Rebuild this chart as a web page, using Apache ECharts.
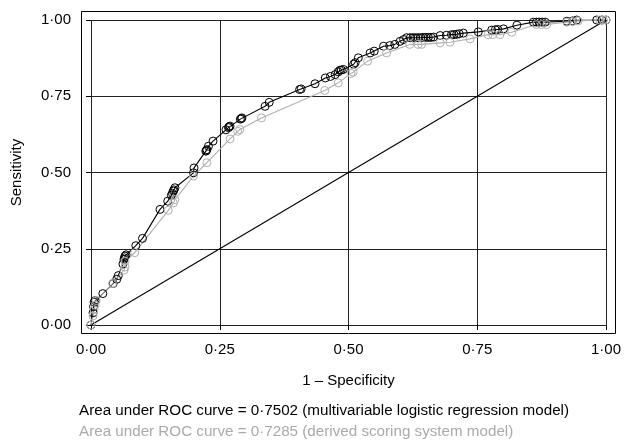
<!DOCTYPE html>
<html>
<head>
<meta charset="utf-8">
<script src="https://cdn.jsdelivr.net/npm/echarts@6/dist/echarts.min.js"></script>
<style>
  html, body { margin: 0; padding: 0; background: #fff; }
  #chart { width: 625px; height: 440px; }
</style>
</head>
<body>
<div id="chart"></div>
<script>
// multivariable logistic regression model (black)
const fprLogit = [0, 0.004, 0.005, 0.006, 0.008, 0.023, 0.043, 0.05, 0.053, 0.062, 0.064, 0.065, 0.066, 0.068,
  0.087, 0.1, 0.134, 0.149, 0.156, 0.158, 0.16, 0.161, 0.163, 0.199, 0.2, 0.223, 0.224, 0.225, 0.228, 0.237,
  0.262, 0.267, 0.268, 0.27, 0.29, 0.292, 0.293, 0.338, 0.346, 0.405, 0.408, 0.435, 0.455, 0.465, 0.474,
  0.48, 0.483, 0.486, 0.49, 0.51, 0.513, 0.519, 0.542, 0.55, 0.568, 0.58, 0.59, 0.6, 0.607, 0.613, 0.62,
  0.625, 0.63, 0.635, 0.64, 0.645, 0.65, 0.655, 0.66, 0.665, 0.678, 0.69, 0.7, 0.705, 0.71, 0.715, 0.723,
  0.752, 0.778, 0.785, 0.79, 0.801, 0.827, 0.859, 0.865, 0.87, 0.876, 0.882, 0.924, 0.935, 0.943, 0.982,
  0.992, 1]
const tprLogit = [0, 0.04, 0.06, 0.075, 0.08, 0.103, 0.136, 0.15, 0.162, 0.2, 0.215, 0.22, 0.226, 0.23,
  0.26, 0.284, 0.379, 0.406, 0.425, 0.432, 0.439, 0.443, 0.45, 0.499, 0.515, 0.57, 0.572, 0.575, 0.586, 0.603,
  0.64, 0.647, 0.65, 0.652, 0.675, 0.677, 0.679, 0.717, 0.73, 0.772, 0.774, 0.791, 0.81, 0.815, 0.821,
  0.83, 0.835, 0.836, 0.838, 0.855, 0.86, 0.876, 0.892, 0.898, 0.914, 0.916, 0.92, 0.93, 0.936, 0.942, 0.942,
  0.942, 0.942, 0.942, 0.942, 0.943, 0.943, 0.943, 0.943, 0.944, 0.949, 0.95, 0.952, 0.952, 0.953, 0.955, 0.957,
  0.961, 0.967, 0.968, 0.969, 0.971, 0.983, 0.993, 0.993, 0.993, 0.993, 0.993, 0.996, 0.997, 1, 1,
  1, 1]

// derived scoring system model (grey)
const fprScore = [0, 0.004, 0.006, 0.008, 0.01, 0.042, 0.064, 0.066, 0.066, 0.085, 0.15, 0.16, 0.163, 0.199,
  0.225, 0.27, 0.285, 0.289, 0.331, 0.454, 0.48, 0.505, 0.509, 0.537, 0.574, 0.619, 0.635, 0.642, 0.678,
  0.697, 0.736, 0.771, 0.78, 0.794, 0.817, 0.865, 0.875, 0.885, 0.924, 0.935, 0.946, 0.988, 0.995, 1]
const tprScore = [0, 0.03, 0.05, 0.065, 0.08, 0.136, 0.18, 0.19, 0.209, 0.237, 0.376, 0.4, 0.411, 0.488,
  0.532, 0.61, 0.635, 0.641, 0.679, 0.769, 0.794, 0.825, 0.829, 0.865, 0.892, 0.92, 0.92, 0.92, 0.925,
  0.927, 0.938, 0.952, 0.952, 0.952, 0.96, 0.985, 0.985, 0.985, 0.993, 0.995, 0.997, 1, 1, 1]

const chanceLine = [[0, 0], [1, 1]]
const tickValues = [0, 0.25, 0.5, 0.75, 1]
const notes = [
  'Area under ROC curve = 0·7502 (multivariable logistic regression model)',
  'Area under ROC curve = 0·7285 (derived scoring system model)'
]

const FONT = '"Liberation Sans", Arial, Helvetica, sans-serif'
const fmt = v => v.toFixed(2).replace('.', '·')
const pairs = (xs, ys) => xs.map((x, i) => [x, ys[i]])

const chart = echarts.init(document.getElementById('chart'))

// hollow see-through circles joined by a thin line
const rocSeries = (name, data, color) => ({
  name,
  type: 'line',
  data,
  symbol: 'circle',
  symbolSize: 8,
  showAllSymbol: true,
  lineStyle: { color, width: 1.1 },
  itemStyle: { color: 'rgba(0,0,0,0)', borderColor: color, borderWidth: 1 }
})

const option = {
  animation: false,
  backgroundColor: '#fff',
  textStyle: { fontFamily: FONT },
  grid: { left: 91, top: 20, width: 515, height: 305 },
  xAxis: {
    type: 'value',
    min: tickValues[0],
    max: tickValues[tickValues.length - 1],
    interval: 0.25,
    offset: 9,
    name: '1 – Specificity',
    nameLocation: 'middle',
    nameGap: 39,
    nameTextStyle: { fontSize: 15, color: '#000', fontFamily: FONT },
    axisLine: { show: false },
    axisTick: { show: true, length: 5, lineStyle: { color: '#000' } },
    axisLabel: { margin: 8, fontSize: 15, color: '#000', fontFamily: FONT, formatter: fmt },
    splitLine: { show: true, lineStyle: { color: '#222', width: 1 } }
  },
  yAxis: {
    type: 'value',
    min: tickValues[0],
    max: tickValues[tickValues.length - 1],
    interval: 0.25,
    offset: 10,
    name: 'Sensitivity',
    nameLocation: 'middle',
    nameGap: 57,
    nameRotate: 90,
    nameTextStyle: { fontSize: 15, color: '#000', fontFamily: FONT },
    axisLine: { show: false },
    axisTick: { show: true, length: 5, lineStyle: { color: '#000' } },
    axisLabel: { margin: 10, fontSize: 15, color: '#000', fontFamily: FONT, formatter: fmt },
    splitLine: { show: true, lineStyle: { color: '#222', width: 1 } }
  },
  graphic: [
    {
      type: 'rect',
      shape: { x: 81.5, y: 11.5, width: 534, height: 322 },
      style: { fill: 'none', stroke: '#000', lineWidth: 1 },
      silent: true
    },
    {
      type: 'text', left: 79, top: 403,
      style: { text: notes[0], fill: '#000', font: '15.2px ' + FONT }
    },
    {
      type: 'text', left: 79, top: 424,
      style: { text: notes[1], fill: '#aaa', font: '15.2px ' + FONT }
    }
  ],
  series: [
    {
      type: 'line',
      data: chanceLine,
      symbol: 'none',
      lineStyle: { color: '#000', width: 1.1 },
      silent: true
    },
    rocSeries('logistic', pairs(fprLogit, tprLogit), '#000'),
    rocSeries('score', pairs(fprScore, tprScore), '#b0b0b0')
  ]
}

chart.setOption(option)
window.addEventListener('resize', () => chart.resize())
</script>
</body>
</html>
